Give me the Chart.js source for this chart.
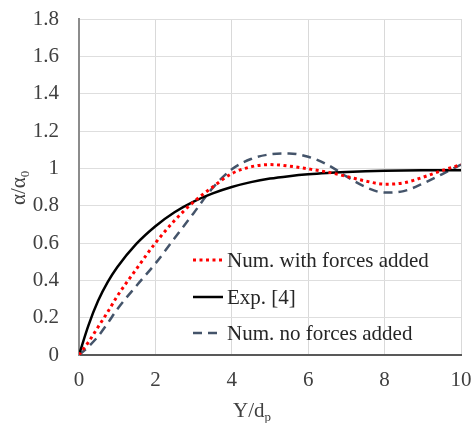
<!DOCTYPE html>
<html>
<head>
<meta charset="utf-8">
<script src="https://cdn.jsdelivr.net/npm/chart.js@4/dist/chart.umd.min.js"></script>
<style>
	html, body { margin: 0; padding: 0; background: #fff; }
	#wrap { width: 473px; height: 423px; }
</style>
</head>
<body>
<div id="wrap"><canvas id="myChart"></canvas></div>
<script>
// Y/dp positions
let yd = [0, 0.25, 0.5, 0.75, 1, 1.5, 2, 2.5, 3, 3.5, 4, 4.5, 5, 5.5, 6, 6.5, 7, 7.5, 8, 8.5, 9, 9.5, 10]
// alpha / alpha0 for each series
let numForces = [0, 0.07, 0.15, 0.23, 0.315, 0.46, 0.6, 0.72, 0.82, 0.9, 0.972, 1.008, 1.02, 1.012, 0.997, 0.98, 0.957, 0.932, 0.915, 0.922, 0.952, 0.988, 1.02]
let expRef = [0, 0.16, 0.29, 0.39, 0.47, 0.595, 0.69, 0.765, 0.822, 0.866, 0.9, 0.926, 0.945, 0.958, 0.968, 0.975, 0.98, 0.984, 0.987, 0.989, 0.99, 0.99, 0.99]
let numNoForces = [0, 0.045, 0.1, 0.17, 0.245, 0.37, 0.49, 0.625, 0.76, 0.895, 0.995, 1.05, 1.075, 1.08, 1.062, 1.02, 0.957, 0.9, 0.87, 0.878, 0.918, 0.968, 1.02]
let labels = ['Num. with forces added', 'Exp. [4]', 'Num. no forces added']
let xTicks = [0, 2, 4, 6, 8, 10]
let yTicks = [0, 0.2, 0.4, 0.6, 0.8, 1, 1.2, 1.4, 1.6, 1.8]

let serif = "'Liberation Serif', 'Times New Roman', Tinos, 'DejaVu Serif', serif"
let toPts = arr => arr.map((v, i) => ({ x: yd[i], y: v }))

// legend + axis titles with subscripts
let extras = {
	id: 'extras',
	afterDraw: chart => {
		let ctx = chart.ctx
		ctx.save()
		ctx.fillStyle = '#262626'
		ctx.textBaseline = 'alphabetic'
		// legend
		let rows = [260, 297, 333]
		chart.data.datasets.forEach((ds, i) => {
			let y = rows[i]
			ctx.strokeStyle = ds.borderColor
			ctx.lineWidth = ds.borderWidth
			ctx.setLineDash(ds.borderDash || [])
			ctx.beginPath()
			ctx.moveTo(193, y)
			ctx.lineTo(223, y)
			ctx.stroke()
			ctx.setLineDash([])
			ctx.font = '21px ' + serif
			ctx.textAlign = 'left'
			ctx.fillText(ds.label, 227, y + 7)
		})
		// x title
		ctx.fillStyle = '#404040'
		ctx.font = '21px ' + serif
		ctx.fillText('Y/d', 233, 417)
		let w = ctx.measureText('Y/d').width
		ctx.font = '13px ' + serif
		ctx.fillText('p', 233 + w, 421)
		// y title
		ctx.translate(25, 205)
		ctx.rotate(-Math.PI / 2)
		ctx.font = '21px ' + serif
		ctx.fillText('α/α', 0, 0)
		w = ctx.measureText('α/α').width
		ctx.font = '13px ' + serif
		ctx.fillText('0', w, 4)
		ctx.restore()
	}
}

new Chart(document.getElementById('myChart'), {
	type: 'line',
	data: {
		datasets: [
			{ label: labels[0], data: toPts(numForces), borderColor: '#ff0000', borderWidth: 3, borderDash: [3, 3.5] },
			{ label: labels[1], data: toPts(expRef), borderColor: '#000000', borderWidth: 2.5 },
			{ label: labels[2], data: toPts(numNoForces), borderColor: '#44546a', borderWidth: 2.5, borderDash: [9, 6] }
		]
	},
	options: {
		responsive: true,
		maintainAspectRatio: false,
		animation: false,
		events: [],
		layout: { padding: { left: 0, right: 12, top: 19, bottom: 0 } },
		elements: {
			point: { radius: 0 },
			line: { cubicInterpolationMode: 'monotone', fill: false, borderCapStyle: 'butt' }
		},
		plugins: {
			legend: { display: false },
			tooltip: { enabled: false }
		},
		scales: {
			x: {
				type: 'linear',
				min: 0,
				max: 10,
				afterBuildTicks: s => { s.ticks = xTicks.map(v => ({ value: v })) },
				afterFit: s => {
					s.height = 68
					s.paddingLeft = 0
					s.paddingRight = 0
				},
				grid: { color: '#d9d9d9', lineWidth: 1, drawTicks: false },
				border: { display: true, color: '#595959', width: 2 },
				ticks: { padding: 13, color: '#404040', font: { family: serif, size: 21 }, callback: v => String(v) }
			},
			y: {
				min: 0,
				max: 1.8,
				afterBuildTicks: s => { s.ticks = yTicks.map(v => ({ value: v })) },
				afterFit: s => {
					s.width = 79
					s.paddingTop = 0
					s.paddingBottom = 0
				},
				grid: { color: '#dedede', lineWidth: 1, drawTicks: false },
				border: { display: true, color: '#8c8c8c', width: 2 },
				ticks: { padding: 20, color: '#404040', font: { family: serif, size: 21 }, callback: v => String(+v.toFixed(1)) }
			}
		}
	},
	plugins: [extras]
})
</script>
</body>
</html>
